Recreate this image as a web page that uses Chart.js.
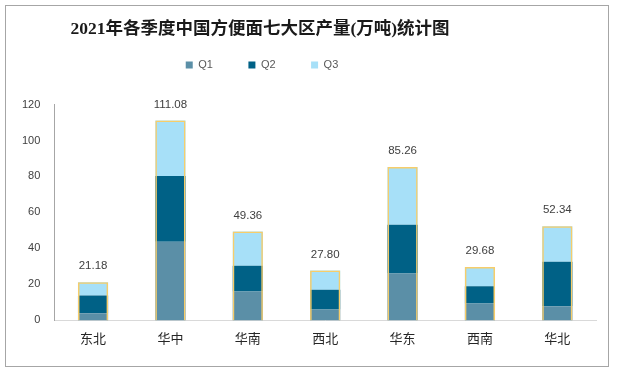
<!DOCTYPE html>
<html>
<head>
<meta charset="utf-8">
<script src="https://cdn.jsdelivr.net/npm/chart.js@4"></script>
<style>
    html, body { margin: 0; padding: 0; background: #ffffff; }
    #wrap { position: relative; width: 617px; height: 371px; }
    #frame { position: absolute; left: 5px; top: 5px; width: 602px; height: 360px; border: 1px solid #a6a6a6; pointer-events: none; }
</style>
</head>
<body>
<div id="wrap">
    <canvas id="chart" width="617" height="371"></canvas>
    <div id="frame"></div>
</div>
<script>
const regions = ["东北", "华中", "华南", "西北", "华东", "西南", "华北"];
const q1 = [4.0, 43.7, 16.0, 6.1, 26.0, 9.4, 7.9];
const q2 = [9.8, 36.5, 14.4, 11.0, 27.1, 9.6, 24.7];
const q3 = [7.38, 30.88, 18.96, 10.7, 32.16, 10.68, 19.74];
const totals = [21.18, 111.08, 49.36, 27.80, 85.26, 29.68, 52.34];
const yTicks = [0, 20, 40, 60, 80, 100, 120];

// title and legend sit left of centre in the original, legend a bit higher than its box
const shiftHeader = {
    id: "shiftHeader",
    afterLayout: (chart) => {
        const title = chart.titleBlock;
        const legend = chart.legend;
        if (title) {
            title.left -= 42;
            title.right -= 42;
        }
        if (legend) {
            legend.left -= 40;
            legend.right -= 40;
            legend.top -= 24;
            legend.bottom -= 24;
        }
    },
};

const totalLabels = {
    id: "totalLabels",
    afterDatasetsDraw: (chart) => {
        const ctx = chart.ctx;
        const meta = chart.getDatasetMeta(3);
        ctx.save();
        ctx.font = "11.5px 'Liberation Sans', Arial, sans-serif";
        ctx.fillStyle = "#404040";
        ctx.textAlign = "center";
        ctx.textBaseline = "middle";
        meta.data.forEach((bar, i) => {
            ctx.fillText(totals[i].toFixed(2), bar.x, bar.y - 16);
        });
        ctx.restore();
    },
};

const getData = () => {
    return {
        labels: regions,
        datasets: [
            { label: "Q1", data: q1, backgroundColor: "#5b8fa7", yAxisID: "y" },
            { label: "Q2", data: q2, backgroundColor: "#006186", yAxisID: "y" },
            { label: "Q3", data: q3, backgroundColor: "#a7e0f8", yAxisID: "y" },
            {
                label: "合计",
                data: totals,
                backgroundColor: "rgba(0,0,0,0)",
                borderColor: "#f7cd6a",
                borderWidth: 1.5,
                yAxisID: "y2",
                order: -1,
            },
        ],
    };
};

const getConfig = (data) => {
    return {
        type: "bar",
        data: data,
        plugins: [shiftHeader, totalLabels],
        options: {
            responsive: false,
            animation: false,
            barPercentage: 0.39,
            categoryPercentage: 1,
            layout: {
                padding: { left: 8, right: 21, top: 0, bottom: 15 },
            },
            plugins: {
                title: {
                    display: true,
                    text: "2021年各季度中国方便面七大区产量(万吨)统计图",
                    color: "#1a1a1a",
                    font: { family: "'Liberation Serif', 'Noto Sans CJK SC', serif", size: 17.5, weight: "bold" },
                    padding: { top: 19, bottom: 8 },
                },
                legend: {
                    position: "top",
                    labels: {
                        boxWidth: 7,
                        boxHeight: 7,
                        padding: 35.5,
                        color: "#595959",
                        font: { family: "'Liberation Sans', Arial, sans-serif", size: 11 },
                        filter: (item) => item.datasetIndex < 3,
                    },
                },
                tooltip: { enabled: false },
            },
            scales: {
                x: {
                    stacked: true,
                    grid: { display: false, drawTicks: false },
                    border: { display: true, color: "#d9d9d9", width: 1 },
                    ticks: {
                        padding: 10,
                        color: "#262626",
                        font: { family: "'Noto Sans CJK SC', sans-serif", size: 13 },
                    },
                },
                y: {
                    stacked: true,
                    min: 0,
                    max: 120,
                    afterBuildTicks: (axis) => {
                        axis.ticks = yTicks.map(v => ({ value: v }));
                    },
                    grid: { display: false, drawTicks: false },
                    border: { display: true, color: "#a6a6a6", width: 1 },
                    ticks: {
                        padding: 14,
                        color: "#404040",
                        font: { family: "'Liberation Sans', Arial, sans-serif", size: 11 },
                    },
                },
                y2: {
                    display: false,
                    stacked: false,
                    min: 0,
                    max: 120,
                },
            },
        },
    };
};

const createChart = () => {
    const ctx = document.getElementById("chart").getContext("2d");
    new Chart(ctx, getConfig(getData()));
};

createChart();
</script>
</body>
</html>
